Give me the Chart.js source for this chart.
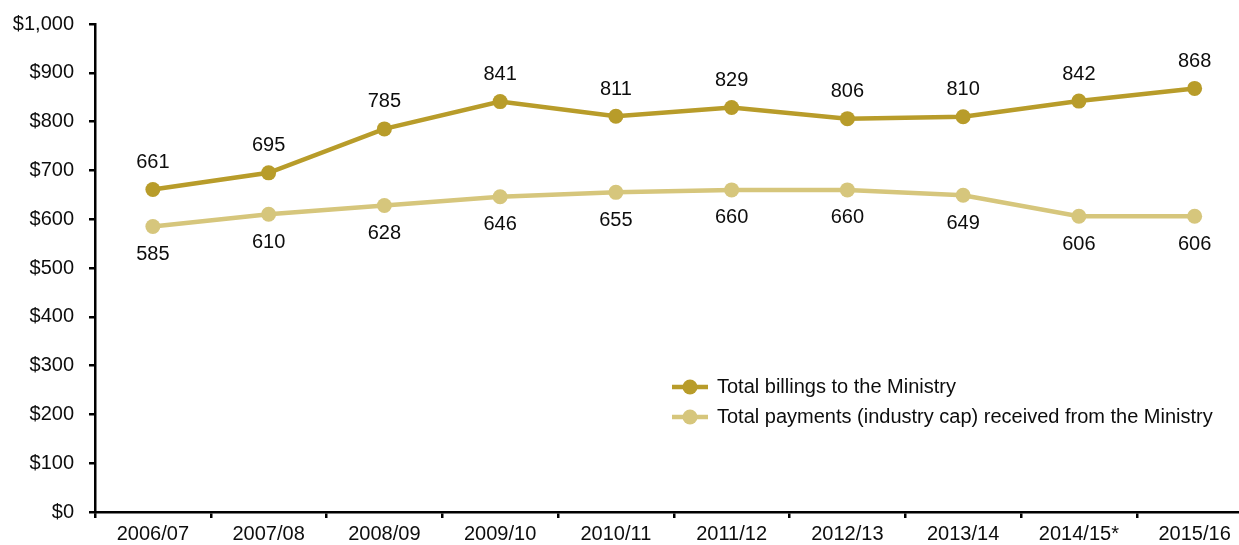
<!DOCTYPE html>
<html>
<head>
<meta charset="utf-8">
<script src="https://cdn.jsdelivr.net/npm/chart.js@4/dist/chart.umd.min.js"></script>
<style>
  html, body { margin: 0; padding: 0; background: #fff; overflow: hidden; width: 1239px; height: 545px; }
  #wrap { position: relative; width: 1260px; height: 545px; }
  #c { display: block; }
</style>
</head>
<body>
<div id="wrap"><canvas id="c" width="1260" height="545"></canvas></div>
<script>
const categories = ['2006/07', '2007/08', '2008/09', '2009/10', '2010/11', '2011/12', '2012/13', '2013/14', '2014/15*', '2015/16'];
const billings = [661, 695, 785, 841, 811, 829, 806, 810, 842, 868];
const payments = [585, 610, 628, 646, 655, 660, 660, 649, 606, 606];
const seriesNames = ['Total billings to the Ministry', 'Total payments (industry cap) received from the Ministry'];
const yTicks = [0, 100, 200, 300, 400, 500, 600, 700, 800, 900, 1000];

const GOLD = '#B89C2A';
const LIGHT = '#D6C67C';
const FAMILY = 'Liberation Sans';
const TEXT = '#0d0d0d';

// value labels above (billings) / below (payments) each point
const valueLabels = {
  id: 'valueLabels',
  afterDatasetsDraw(chart) {
    const ctx = chart.ctx;
    ctx.save();
    ctx.font = '20px "' + FAMILY + '"';
    ctx.fillStyle = TEXT;
    ctx.textAlign = 'center';
    ctx.textBaseline = 'middle';
    chart.data.datasets.forEach((ds, i) => {
      const meta = chart.getDatasetMeta(i);
      const dy = i === 0 ? -27 : 28;
      meta.data.forEach((pt, j) => {
        ctx.fillText(String(ds.data[j]), pt.x, pt.y + dy);
      });
    });
    ctx.restore();
  }
};

// legend drawn inside the plot area, lower right
const insideLegend = {
  id: 'insideLegend',
  afterDraw(chart) {
    const ctx = chart.ctx;
    const x0 = 672, rows = [387, 417];
    ctx.save();
    chart.data.datasets.forEach((ds, i) => {
      const y = rows[i];
      ctx.strokeStyle = ds.borderColor;
      ctx.lineWidth = 4.5;
      ctx.beginPath();
      ctx.moveTo(x0, y);
      ctx.lineTo(x0 + 36, y);
      ctx.stroke();
      ctx.fillStyle = ds.borderColor;
      ctx.beginPath();
      ctx.arc(x0 + 18, y, 7.5, 0, Math.PI * 2);
      ctx.fill();
      ctx.fillStyle = TEXT;
      ctx.font = '20px "' + FAMILY + '"';
      ctx.textAlign = 'left';
      ctx.textBaseline = 'middle';
      ctx.fillText(ds.label, x0 + 45, y);
    });
    ctx.restore();
  }
};

function draw() {
  new Chart(document.getElementById('c'), {
    type: 'line',
    data: {
      labels: categories,
      datasets: [
        {
          label: seriesNames[0],
          data: billings,
          borderColor: GOLD,
          backgroundColor: GOLD,
          borderWidth: 4.5,
          pointRadius: 7.5,
          pointHoverRadius: 7.5,
          pointBorderWidth: 0,
          tension: 0
        },
        {
          label: seriesNames[1],
          data: payments,
          borderColor: LIGHT,
          backgroundColor: LIGHT,
          borderWidth: 4.5,
          pointRadius: 7.5,
          pointHoverRadius: 7.5,
          pointBorderWidth: 0,
          tension: 0
        }
      ]
    },
    options: {
      responsive: false,
      maintainAspectRatio: false,
      animation: false,
      devicePixelRatio: 1,
      layout: { padding: { top: 24, right: 0, left: 0, bottom: 0 } },
      plugins: {
        legend: { display: false },
        tooltip: { enabled: false }
      },
      scales: {
        x: {
          type: 'category',
          offset: true,
          border: { display: true, color: '#000', width: 2.5 },
          grid: { drawOnChartArea: false, color: '#000', lineWidth: 2.5, tickLength: 6, offset: true },
          ticks: {
            color: TEXT,
            font: { family: FAMILY, size: 20 },
            padding: 4,
            maxRotation: 0,
            autoSkip: false
          },
          afterFit(scale) {
            scale.height = 33;
            scale.paddingLeft = 0;
            scale.paddingRight = 0;
          }
        },
        y: {
          min: 0,
          max: 1000,
          border: { display: true, color: '#000', width: 2.5 },
          grid: { drawOnChartArea: false, color: '#000', lineWidth: 2.5, tickLength: 6 },
          afterBuildTicks(scale) { scale.ticks = yTicks.map(v => ({ value: v })); },
          ticks: {
            color: TEXT,
            font: { family: FAMILY, size: 20 },
            padding: 15,
            callback: v => '$' + Number(v).toLocaleString('en-US')
          },
          afterFit(scale) {
            scale.width = 95;
            scale.paddingTop = 0;
            scale.paddingBottom = 0;
          }
        }
      }
    },
    plugins: [valueLabels, insideLegend]
  });
}

document.fonts.load('20px "' + FAMILY + '"').then(draw, draw);
</script>
</body>
</html>
